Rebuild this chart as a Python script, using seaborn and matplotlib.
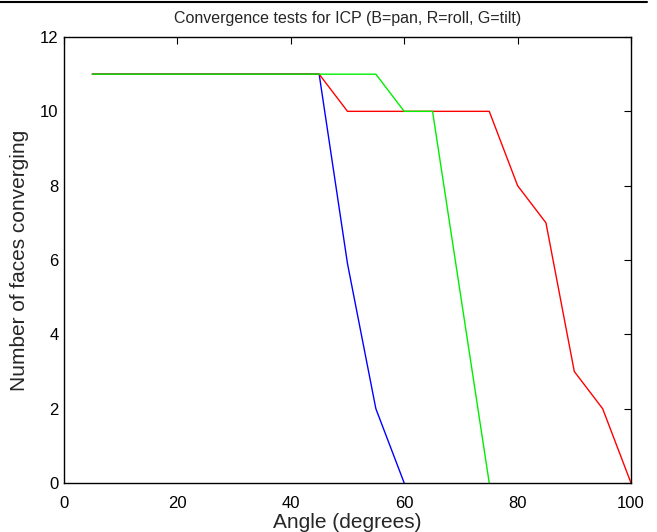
import matplotlib
matplotlib.use("Agg")
import matplotlib.pyplot as plt
import seaborn as sns
import pandas as pd
from matplotlib.lines import Line2D

angles = [5, 10, 15, 20, 25, 30, 35, 40, 45, 50, 55, 60, 65, 70, 75, 80, 85, 90, 95, 100]
pan_angles = [5, 10, 15, 20, 25, 30, 35, 40, 45, 50, 55, 60]
pan = [11, 11, 11, 11, 11, 11, 11, 11, 11, 5.9, 2, 0]
roll = [11, 11, 11, 11, 11, 11, 11, 11, 11, 10, 10, 10, 10, 10, 10, 8, 7, 3, 2, 0]
tilt_angles = [5, 10, 15, 20, 25, 30, 35, 40, 45, 50, 55, 60, 65, 70, 75]
tilt = [11, 11, 11, 11, 11, 11, 11, 11, 11, 11, 11, 10, 10, 5, 0]

df = pd.concat([
    pd.DataFrame({"angle": pan_angles, "n": pan, "s": "pan"}),
    pd.DataFrame({"angle": angles, "n": roll, "s": "roll"}),
    pd.DataFrame({"angle": tilt_angles, "n": tilt, "s": "tilt"}),
])

sns.set_style("white")
plt.rcParams["font.family"] = ["Liberation Sans", "DejaVu Sans"]

fig = plt.figure(figsize=(6.57, 5.32), dpi=100)
ax = fig.add_axes([64/657, 49/532, 567/657, 446/532])
sns.lineplot(data=df, x="angle", y="n", hue="s",
             palette={"pan": "#0000ff", "roll": "#ff0000", "tilt": "#00ee00"},
             linewidth=1.0, legend=False, ax=ax, estimator=None, sort=False)

ax.set_xlim(0, 100)
ax.set_ylim(0, 12)
ax.set_xticks([0, 20, 40, 60, 80, 100])
ax.set_yticks([0, 2, 4, 6, 8, 10, 12])
ax.tick_params(direction="in", top=True, right=True, length=5, width=0.8,
               labelsize=12, colors="black", pad=4)
ax.tick_params(axis="x", pad=9)
for sp in ax.spines.values():
    sp.set_visible(True)
    sp.set_color("black")
    sp.set_linewidth(1.0)
ax.set_xlabel("Angle (degrees)", fontsize=15, labelpad=2)
ax.set_ylabel("Number of faces converging", fontsize=15, labelpad=8)
ax.set_title("Convergence tests for ICP (B=pan, R=roll, G=tilt)", fontsize=11.5, pad=10)

fig.add_artist(Line2D([0, 647/657], [1 - 1.5/532, 1 - 1.5/532], color="black", linewidth=1.5))

fig.savefig("out.png", dpi=100)
